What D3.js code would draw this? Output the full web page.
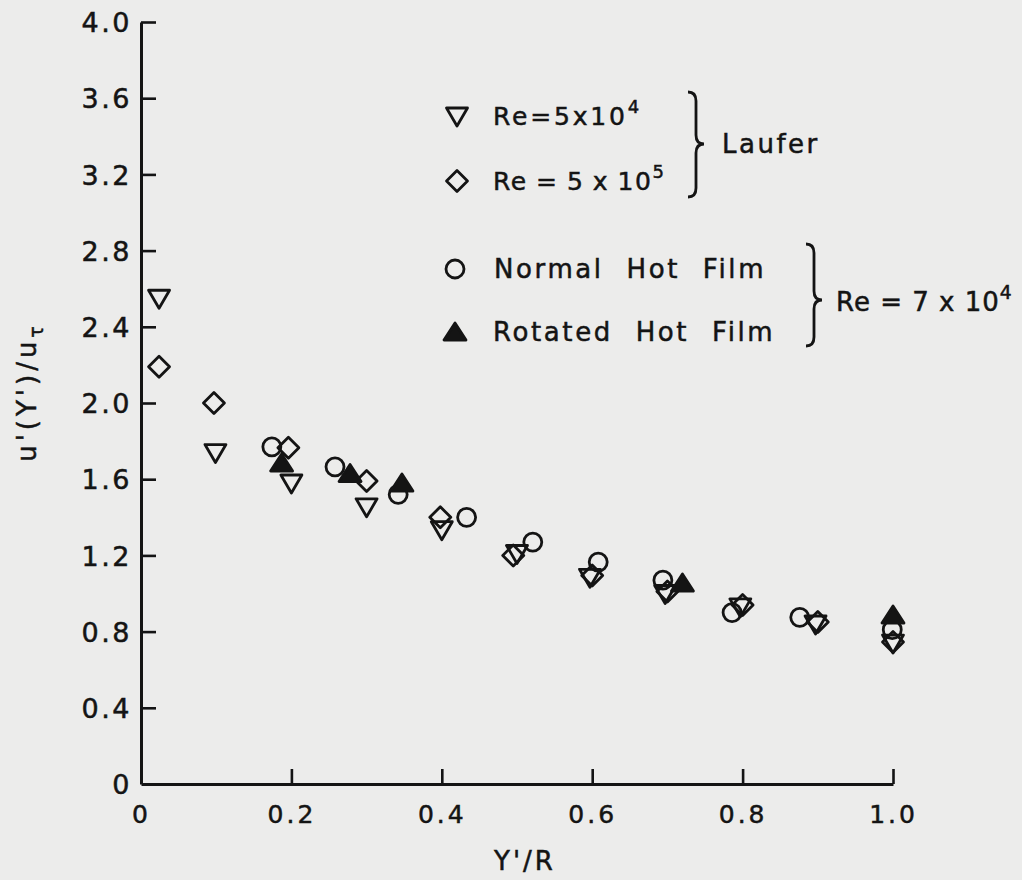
<!DOCTYPE html>
<html>
<head>
<meta charset="utf-8">
<script src="https://cdn.jsdelivr.net/npm/d3@7"></script>
<style>
  html, body { margin: 0; padding: 0; background: #ececeb; }
  svg { display: block; }
  text { font-family: "DejaVu Sans", sans-serif; fill: #141414; stroke: #141414; stroke-width: 0.5px; }
</style>
</head>
<body>
<svg id="chart" width="1022" height="880"></svg>
<script>
// ---- data ----
const laufer4X = [0.024, 0.099, 0.2, 0.3, 0.4, 0.5, 0.597, 0.697, 0.797, 0.897, 1.0];
const laufer4Y = [2.55, 1.74, 1.58, 1.455, 1.335, 1.21, 1.085, 1.0, 0.93, 0.84, 0.74];

const laufer5X = [0.024, 0.097, 0.196, 0.3, 0.398, 0.495, 0.6, 0.7, 0.8, 0.9, 1.0];
const laufer5Y = [2.19, 2.0, 1.765, 1.59, 1.40, 1.20, 1.095, 1.01, 0.94, 0.85, 0.745];

const normalX = [0.174, 0.258, 0.342, 0.433, 0.521, 0.608, 0.694, 0.786, 0.876, 0.999];
const normalY = [1.77, 1.665, 1.52, 1.40, 1.27, 1.165, 1.07, 0.90, 0.875, 0.81];

const rotatedX = [0.187, 0.278, 0.347, 0.72, 1.0];
const rotatedY = [1.685, 1.63, 1.58, 1.055, 0.887];

const xTickValues = [0, 0.2, 0.4, 0.6, 0.8, 1.0];
const xTickLabels = ["0", "0.2", "0.4", "0.6", "0.8", "1.0"];
const yTickValues = [0, 0.4, 0.8, 1.2, 1.6, 2.0, 2.4, 2.8, 3.2, 3.6, 4.0];
const yTickLabels = ["0", "0.4", "0.8", "1.2", "1.6", "2.0", "2.4", "2.8", "3.2", "3.6", "4.0"];

// ---- setup ----
const svg = d3.select("#chart");
const ink = "#141414";
const font = "DejaVu Sans, sans-serif";
const x = d3.scaleLinear().domain([0, 1]).range([141, 893]);
const y = d3.scaleLinear().domain([0, 4]).range([784, 22]);

// axes
const xAxis = d3.axisBottom(x).tickValues(xTickValues)
  .tickFormat((d, i) => xTickLabels[i]).tickSizeInner(-15).tickSizeOuter(0).tickPadding(22);
const yAxis = d3.axisLeft(y).tickValues(yTickValues)
  .tickFormat((d, i) => yTickLabels[i]).tickSizeInner(-15).tickSizeOuter(0).tickPadding(9);

const gx = svg.append("g").attr("transform", `translate(0,${y(0)})`).call(xAxis);
const gy = svg.append("g").attr("transform", `translate(${x(0)},0)`).call(yAxis);
[gx, gy].forEach(g => {
  g.select(".domain").attr("stroke", ink).attr("stroke-width", 3);
  g.selectAll(".tick line").attr("stroke", ink).attr("stroke-width", 2.6);
  g.selectAll(".tick text").attr("fill", ink).attr("font-family", font);
});
gx.selectAll(".tick text").attr("font-size", 25).attr("letter-spacing", 3).attr("dy", "0.71em").attr("y", 21);
gy.selectAll(".tick text").attr("font-size", 27).attr("letter-spacing", 2.5).attr("dy", "0.36em");
gx.selectAll(".tick").filter(d => d === 0).select("line").remove();
gy.selectAll(".tick").filter(d => d === 0).select("line").remove();

// axis titles
svg.append("text").attr("x", 525).attr("y", 870).attr("text-anchor", "middle")
  .attr("font-size", 26).attr("letter-spacing", 3).text("Y'/R");

const yt = svg.append("text").attr("transform", "translate(36,392) rotate(-90)")
  .attr("text-anchor", "middle").attr("font-size", 26).attr("letter-spacing", 4);
yt.append("tspan").text("u'(Y')/u");
yt.append("tspan").attr("dy", 7).attr("font-size", 19).text("τ");

// ---- markers ----
const sw = 2.8;
const triDown = "M-10.5,-8 L10.5,-8 L0,10 Z";
const triUp = "M0,-9 L11,8 L-11,8 Z";
const diamond = "M0,-10.5 L10.5,0 L0,10.5 L-10.5,0 Z";

function drawPath(xs, ys, d, filled) {
  svg.append("g").selectAll("path").data(xs.map((v, i) => [v, ys[i]])).join("path")
    .attr("transform", p => `translate(${x(p[0])},${y(p[1])})`)
    .attr("d", d)
    .attr("fill", filled ? ink : "none")
    .attr("stroke", ink).attr("stroke-width", sw).attr("stroke-linejoin", "round");
}
function drawCircles(xs, ys) {
  svg.append("g").selectAll("circle").data(xs.map((v, i) => [v, ys[i]])).join("circle")
    .attr("cx", p => x(p[0])).attr("cy", p => y(p[1])).attr("r", 9)
    .attr("fill", "none").attr("stroke", ink).attr("stroke-width", sw);
}

drawPath(laufer4X, laufer4Y, triDown, false);
drawPath(laufer5X, laufer5Y, diamond, false);
drawCircles(normalX, normalY);
drawPath(rotatedX, rotatedY, triUp, true);

// ---- legend ----
const leg = svg.append("g");
function legendMark(cx, cy, kind) {
  if (kind === "circle") {
    leg.append("circle").attr("cx", cx).attr("cy", cy).attr("r", 9)
      .attr("fill", "none").attr("stroke", ink).attr("stroke-width", sw);
  } else {
    const d = kind === "triDown" ? triDown : kind === "diamond" ? diamond : triUp;
    leg.append("path").attr("transform", `translate(${cx},${cy})`).attr("d", d)
      .attr("fill", kind === "triUp" ? ink : "none").attr("stroke", ink)
      .attr("stroke-width", sw).attr("stroke-linejoin", "round");
  }
}
function legendText(tx, ty, main, sup, size, spacing, wordSp) {
  const t = leg.append("text").attr("x", tx).attr("y", ty).attr("font-size", size)
    .attr("letter-spacing", spacing).attr("word-spacing", wordSp);
  t.append("tspan").text(main);
  if (sup) t.append("tspan").attr("dy", -12).attr("font-size", size * 0.72).text(sup);
  return t;
}
function brace(x0, y0, y1, ytip, w) {
  const r = 9;
  const p = d3.path();
  p.moveTo(x0, y0);
  p.quadraticCurveTo(x0 + w, y0, x0 + w, y0 + r);
  p.lineTo(x0 + w, ytip - r);
  p.quadraticCurveTo(x0 + w, ytip, x0 + 2 * w, ytip);
  p.quadraticCurveTo(x0 + w, ytip, x0 + w, ytip + r);
  p.lineTo(x0 + w, y1 - r);
  p.quadraticCurveTo(x0 + w, y1, x0, y1);
  leg.append("path").attr("d", p.toString()).attr("fill", "none")
    .attr("stroke", ink).attr("stroke-width", 2.8);
}

legendMark(457, 116, "triDown");
legendText(493, 125, "Re=5x10", "4", 25, 2.8, 0);
legendMark(457, 181, "diamond");
legendText(493, 190, "Re = 5 x 10", "5", 25, 1.5, -1);
brace(688, 92, 197, 144, 8);
legendText(722, 153, "Laufer", null, 26, 2.5, 0);

legendMark(455, 269, "circle");
legendText(494, 278, "Normal Hot Film", null, 26, 2.6, 12);
legendMark(455, 332, "triUp");
legendText(493, 341, "Rotated Hot Film", null, 26, 2.6, 12);
brace(806, 244, 346, 300, 8);
legendText(836, 311, "Re = 7 x 10", "4", 26, 1, 0);
</script>
</body>
</html>
